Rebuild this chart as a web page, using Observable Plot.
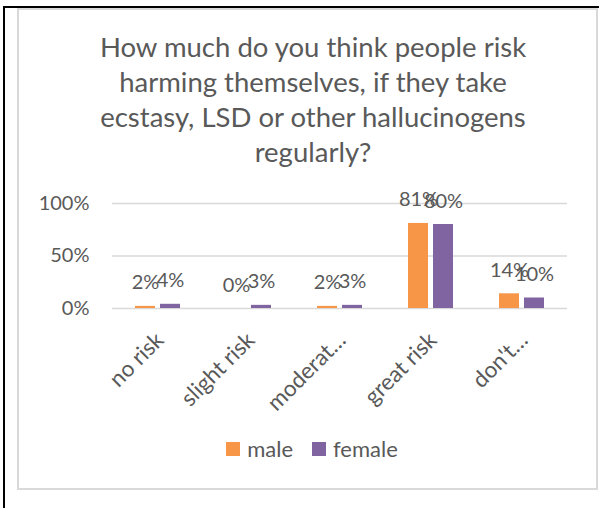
<!DOCTYPE html>
<html>
<head>
<meta charset="utf-8">
<script src="https://cdn.jsdelivr.net/npm/d3@7"></script>
<script src="https://cdn.jsdelivr.net/npm/@observablehq/plot@0.6"></script>
<style>
  html, body { margin: 0; padding: 0; background: #fff; }
  #page { position: relative; width: 600px; height: 508px; overflow: hidden; font-family: Lato, "Open Sans", sans-serif; color: #595959; }
  #blackTop { position: absolute; left: 3px; top: 6px; width: 596px; height: 2px; background: #000; }
  #blackLeft { position: absolute; left: 3px; top: 6px; width: 2px; height: 502px; background: #000; }
  #box { position: absolute; left: 17px; top: 8px; width: 581px; height: 482px; border: 2px solid #d9d9d9; box-sizing: border-box; }
  #title { position: absolute; left: 17px; width: 592px; top: 29px; text-align: center; font-size: 27.5px; line-height: 35px; }
  #chart { position: absolute; left: 0; top: 0; }
  #legend { position: absolute; left: 0; width: 624px; top: 437px; display: flex; justify-content: center; gap: 19px; font-size: 22px; line-height: 24px; }
  .item { display: flex; align-items: center; gap: 7px; }
  .sw { width: 14px; height: 14px; display: inline-block; }
</style>
</head>
<body>
<div id="page">
  <div id="box"></div>
  <div id="blackTop"></div>
  <div id="blackLeft"></div>
  <div id="title"></div>
  <div id="chart"></div>
  <div id="legend"></div>
</div>
<script>
const titleLines = ["How much do you think people risk", "harming themselves, if they take", "ecstasy, LSD or other hallucinogens", "regularly?"];
const categories = ["no risk", "slight risk", "moderat…", "great risk", "don't…"];
const series = ["male", "female"];
const male = [2, 0, 2, 81, 14];
const female = [4, 3, 3, 80, 10];
const yTicks = [0, 50, 100];
const colors = ["#F79646", "#8064A2"];

const data = [];
categories.forEach((c, i) => {
  data.push({cat: c, gender: "male", value: male[i]});
  data.push({cat: c, gender: "female", value: female[i]});
});

document.getElementById("title").innerHTML = titleLines.join("<br>");

const plot = Plot.plot({
  width: 600,
  height: 508,
  marginTop: 203,
  marginBottom: 200,
  marginLeft: 111,
  marginRight: 32,
  style: {fontFamily: "Lato, 'Open Sans', sans-serif", color: "#595959", background: "transparent", overflow: "visible"},
  fx: {domain: categories, paddingInner: 0, paddingOuter: 0, label: null},
  x: {domain: series, paddingInner: 0.19, paddingOuter: 0.85, axis: null},
  y: {domain: [0, 100], label: null},
  color: {domain: series, range: colors},
  marks: [
    Plot.gridY(yTicks, {stroke: "#d9d9d9", strokeOpacity: 1, strokeWidth: 1.5}),
    Plot.axisY(yTicks, {tickSize: 0, tickPadding: 23, fontSize: 20, tickFormat: d => d + "%", label: null}),
    Plot.axisFx({anchor: "bottom", tickRotate: -45, tickSize: 0, tickPadding: 28, dx: 2, fontSize: 22.5, label: null}),
    Plot.barY(data, {fx: "cat", x: "gender", y: "value", fill: "gender", insetLeft: 0, insetRight: 0}),
    Plot.text(data, {fx: "cat", x: "gender", y: "value", text: d => d.value + "%", fontSize: 20, fill: "#595959", lineAnchor: "bottom", dy: -17})
  ]
});
document.getElementById("chart").appendChild(plot);

const legend = document.getElementById("legend");
series.forEach((s, i) => {
  const item = document.createElement("div");
  item.className = "item";
  const sw = document.createElement("span");
  sw.className = "sw";
  sw.style.background = colors[i];
  const lab = document.createElement("span");
  lab.textContent = s;
  item.appendChild(sw);
  item.appendChild(lab);
  legend.appendChild(item);
});
</script>
</body>
</html>
